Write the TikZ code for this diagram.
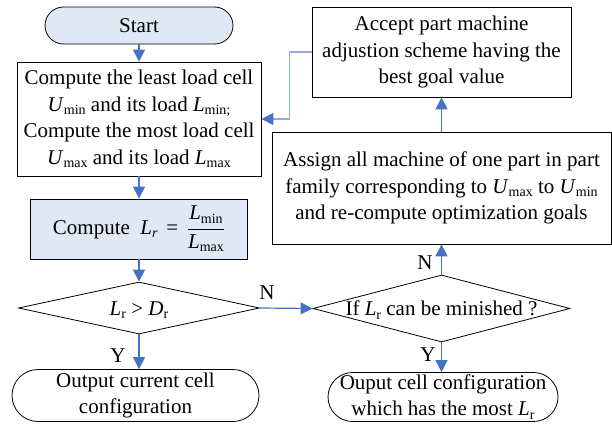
\documentclass[tikz,border=0pt]{standalone}
\usepackage{fontspec}
\setmainfont{Liberation Serif}
\usetikzlibrary{shapes.geometric,arrows.meta,calc}
\definecolor{flowblue}{HTML}{4472C4}
\definecolor{backblue}{HTML}{8DAEE0}
\definecolor{paleblue}{HTML}{DFE8F4}
\newcommand{\lowsub}[1]{\raisebox{-0.35ex}{\fontsize{14}{14}\selectfont #1}}
\newcommand{\diamondtext}[1]{\makebox[0pt]{\raisebox{-0.35em}[0pt][0pt]{#1}}}
\begin{document}
\begin{tikzpicture}[x=1pt,y=-1pt,
  every node/.style={font=\fontsize{21}{26.5}\selectfont, align=center, inner sep=0pt},
  procbox/.style={draw=black, line width=0.8pt, rectangle},
  termbox/.style={draw=black, line width=0.8pt, rectangle},
  decbox/.style={draw=black, line width=0.8pt, diamond},
  flow/.style={draw=flowblue, line width=1.2pt, -{Triangle[length=12pt,width=12pt]}},
  backflow/.style={draw=backblue, line width=1.2pt, -{Triangle[length=12pt,width=12pt,color=flowblue]}},
  tag/.style={font=\fontsize{21}{21}\selectfont}]
\useasboundingbox (0,0) rectangle (612,423);

% left column
\node[termbox, fill=paleblue, minimum width=188pt, minimum height=37pt, rounded corners=18.5pt]
  (start) at (139,25.5) {Start};
\node[procbox, minimum width=244pt, minimum height=114pt] (least) at (139,119)
  {Compute the least load cell\\
   \textit{U}\lowsub{min} and its load \textit{L}\lowsub{min;}\\
   Compute the most load cell\\
   \textit{U}\lowsub{max} and its load \textit{L}\lowsub{max}};
\node[procbox, fill=paleblue, minimum width=217pt, minimum height=60pt] (ratio) at (139,229)
  {Compute\ \ \textit{L}\lowsub{\textit{r}}\,\mbox{ = }\,$\displaystyle\frac{\mbox{\textit{L}\lowsub{min}}}{\mbox{\textit{L}\lowsub{max}}}$};
\node[decbox, minimum width=241pt, minimum height=52pt] (test) at (139,308)
  {\diamondtext{\textit{L}\lowsub{r} > \textit{D}\lowsub{r}}};
\node[termbox, minimum width=247pt, minimum height=52pt, rounded corners=26pt] (outcur) at (135.5,395.5)
  {Output current cell\\configuration};

% right column
\node[decbox, minimum width=257pt, minimum height=67pt] (minish) at (441.5,308.5)
  {\diamondtext{If \textit{L}\lowsub{r} can be minished ?}};
\node[termbox, minimum width=230pt, minimum height=49pt, rounded corners=24.5pt] (outbest) at (443,397)
  {Ouput cell configuration\\which has the most \textit{L}\lowsub{r}};
\node[procbox, minimum width=339pt, minimum height=112pt] (assign) at (441.5,188)
  {Assign all machine of one part in part\\
   family corresponding to \textit{U}\lowsub{max} to \textit{U}\lowsub{min}\\
   and re-compute optimization goals};
\node[procbox, minimum width=259pt, minimum height=90pt] (accept) at (441.5,52)
  {Accept part machine\\adjustion scheme having the\\best goal value};

% connectors
\draw[flow] (start.south) -- (least.north);
\draw[flow] (least.south) -- (ratio.north);
\draw[flow] (ratio.south) -- (test.north);
\draw[flow] (test.south) -- (test.south |- outcur.north);
\draw[flow] (test.east) -- (minish.west);
\draw[flow] (minish.south) -- (minish.south |- outbest.north);
\draw[flow] (minish.north) -- (assign.south);
\draw[flow] (assign.north) -- (accept.south);
\coordinate (bend) at ($(accept.west)+(-22,0)$);
\draw[backflow] (accept.west) -- (bend) |- (least.east);

% branch labels
\node[tag] (n1) at (267,293) {N};
\node[tag] (y1) at (118,356) {Y};
\node[tag] (n2) at (425,263) {N};
\node[tag] (y2) at (428,355) {Y};
\end{tikzpicture}
\end{document}
